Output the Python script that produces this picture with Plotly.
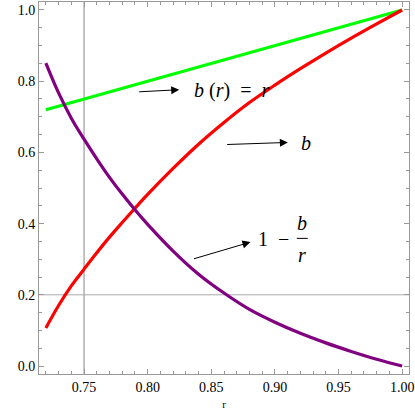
import plotly.graph_objects as go

# data
r_vals = [0.72, 0.73, 0.74, 0.75, 0.76, 0.77, 0.78, 0.79, 0.80, 0.82, 0.84,
          0.86, 0.88, 0.90, 0.92, 0.94, 0.96, 0.98, 1.00]
b_vals = [0.107, 0.170, 0.225, 0.272, 0.318, 0.362, 0.403, 0.443, 0.482, 0.555,
          0.623, 0.684, 0.740, 0.789, 0.835, 0.879, 0.921, 0.961, 1.000]
one_minus_b_over_r = [0.851, 0.767, 0.696, 0.637, 0.582, 0.530, 0.483, 0.439,
                      0.398, 0.323, 0.258, 0.205, 0.159, 0.123, 0.092, 0.065,
                      0.041, 0.019, 0.000]
line_r = [0.72, 1.00]
line_b = [0.72, 1.00]

x_ticks = [0.75, 0.80, 0.85, 0.90, 0.95, 1.00]
x_ticklabels = ["0.75", "0.80", "0.85", "0.90", "0.95", "1.00"]
y_ticks = [0.0, 0.2, 0.4, 0.6, 0.8, 1.0]
y_ticklabels = ["0.0", "0.2", "0.4", "0.6", "0.8", "1.0"]

ref_x = 0.75
ref_y = 0.2

SERIF = "Liberation Serif"

fig = go.Figure()
fig.add_trace(go.Scatter(x=line_r, y=line_b, mode="lines",
                         line=dict(color="#00ff00", width=3.2), showlegend=False))
fig.add_trace(go.Scatter(x=r_vals, y=b_vals, mode="lines", line_shape="spline",
                         line=dict(color="#ff0000", width=3.2), showlegend=False))
fig.add_trace(go.Scatter(x=r_vals, y=one_minus_b_over_r, mode="lines", line_shape="spline",
                         line=dict(color="#800080", width=3.2), showlegend=False))

# reference lines
fig.add_shape(type="line", xref="x", yref="paper", x0=ref_x, x1=ref_x, y0=0, y1=1,
              line=dict(color="#888888", width=1), layer="below")
fig.add_shape(type="line", xref="paper", yref="y", x0=0, x1=1, y0=ref_y, y1=ref_y,
              line=dict(color="#aaaaaa", width=1), layer="below")

arrow = dict(showarrow=True, arrowhead=2, arrowsize=1.6, arrowwidth=1,
             arrowcolor="black", axref="x", ayref="y", text="", standoff=0, startstandoff=0)
fig.add_annotation(x=0.8248, y=0.776, ax=0.7922, ay=0.770, **arrow)
fig.add_annotation(x=0.9102, y=0.628, ax=0.8613, ay=0.622, **arrow)
fig.add_annotation(x=0.8808, y=0.348, ax=0.8352, ay=0.300, **arrow)

tfont = dict(family=SERIF, size=20, color="black")
ifont = dict(family=SERIF, size=20, color="black", style="italic")
fig.add_annotation(x=0.866, y=0.773, text="<i>b</i> (<i>r</i>)  =  <i>r</i>",
                   showarrow=False, font=tfont)
fig.add_annotation(x=0.9248, y=0.627, text="b", showarrow=False, font=ifont)
fig.add_annotation(x=0.899, y=0.358, text="1  \u2212", showarrow=False, font=tfont)
fig.add_annotation(x=0.9215, y=0.403, text="b", showarrow=False, font=ifont)
fig.add_annotation(x=0.9215, y=0.312, text="r", showarrow=False, font=ifont)
fig.add_shape(type="line", xref="x", yref="y", x0=0.9172, x1=0.9258, y0=0.3585, y1=0.3585,
              line=dict(color="black", width=1))

axis_common = dict(showline=True, linecolor="#999999", linewidth=1, mirror="ticks",
                   ticks="inside", tickcolor="#999999", ticklen=5, showgrid=False,
                   zeroline=False, ticklabeloverflow="allow",
                   tickfont=dict(family=SERIF, size=14, color="black"))

fig.update_xaxes(range=[0.7146, 1.0054], tickvals=x_ticks, ticktext=x_ticklabels,
                 minor=dict(ticks="inside", dtick=0.01, tick0=0.7, ticklen=3, tickcolor="#999999"),
                 title=dict(text="r", font=dict(family=SERIF, size=11, color="black"), standoff=6),
                 **axis_common)
fig.update_yaxes(range=[-0.0224, 1.0224], tickvals=y_ticks, ticktext=y_ticklabels,
                 minor=dict(ticks="inside", dtick=0.05, tick0=0, ticklen=3, tickcolor="#999999"),
                 **axis_common)

fig.update_layout(width=415, height=412, margin=dict(l=39, r=4, t=1, b=38),
                  plot_bgcolor="white", paper_bgcolor="white",
                  font=dict(family=SERIF))

fig.write_html("out.html", config={"displayModeBar": False},
               post_script="document.body.style.margin='0';document.body.style.overflow='hidden';")
